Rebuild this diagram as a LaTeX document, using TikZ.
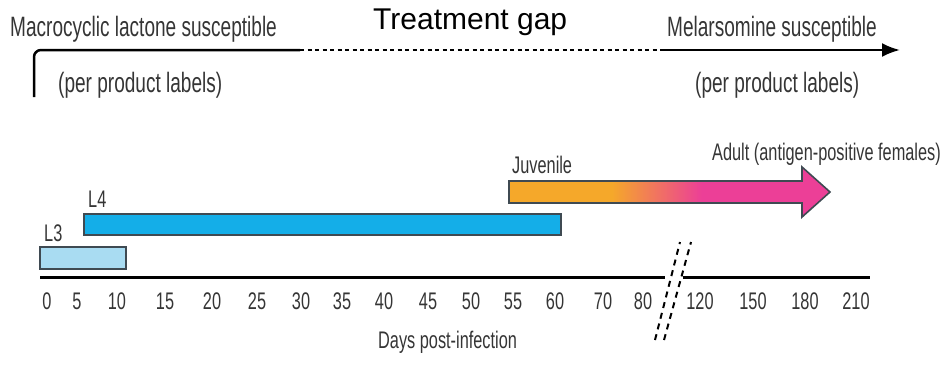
\documentclass[tikz,border=0pt]{standalone}
\usepackage{fontspec}
\setmainfont{Liberation Sans}
\newfontfamily\narrowfont{Liberation Sans}[FakeStretch=0.68]
\usetikzlibrary{arrows.meta}

\definecolor{labelgray}{HTML}{353535}
\definecolor{barline}{HTML}{3F4A52}
\definecolor{lthree}{HTML}{A9DCF2}
\definecolor{lfour}{HTML}{14AEE8}
\definecolor{juvorange}{HTML}{F5A82A}
\definecolor{adultpink}{HTML}{EC3F97}

\pgfdeclarehorizontalshading{juvshade}{100bp}{color(0bp)=(juvorange); color(41bp)=(juvorange); color(55bp)=(adultpink); color(100bp)=(adultpink)}

\begin{document}
\begin{tikzpicture}[x=1pt,y=-1pt,
  lbl/.style={anchor=base west,inner sep=0pt,text=labelgray,font=\narrowfont\fontsize{28}{32}\selectfont},
  smalllbl/.style={lbl,font=\narrowfont\fontsize{24}{28}\selectfont},
  ticklbl/.style={anchor=base,inner sep=0pt,text=labelgray,font=\narrowfont\fontsize{24}{28}\selectfont},
  topline/.style={line width=2.5pt},
  bar/.style={draw=barline,line width=1.6pt},
  axisline/.style={line width=3pt},
  breakmark/.style={line width=2pt,dash pattern=on 6pt off 5pt}]

\useasboundingbox (0,0) rectangle (949,368);

% susceptibility line
\coordinate (mlstart) at (34,97);
\coordinate (mlcorner) at (34,50);
\coordinate (mlend) at (300,50);
\coordinate (melstart) at (660,50);
\coordinate (melend) at (900,50);
\draw[topline,rounded corners=7pt] (mlstart) -- (mlcorner) -- (mlend);
\draw[topline,dash pattern=on 4pt off 3.5pt] (mlend) -- (melstart);
\draw[topline,-{Latex[length=18pt,width=14pt]}] (melstart) -- (melend);

\node[lbl] (mltext) at (10,36) {Macrocyclic lactone susceptible};
\node[lbl] (mllabels) at (58,92) {(per product labels)};
\node[anchor=base west,inner sep=0pt,font=\fontsize{30}{34}\selectfont] (gap) at (373,29) {Treatment gap};
\node[lbl] (meltext) at (667,36) {Melarsomine susceptible};
\node[lbl] (mellabels) at (695,92) {(per product labels)};

% stages
\draw[bar,fill=lthree] (40,247) rectangle (126,269);
\draw[bar,fill=lfour] (84,214) rectangle (561,235);
\shadedraw[bar,shading=juvshade] (509,181) -- (802,181) -- (802,167) -- (830,192)
  -- (802,217) -- (802,203) -- (509,203) -- cycle;

\node[smalllbl] (lthreetext) at (44,241) {L3};
\node[smalllbl] (lfourtext) at (88,207) {L4};
\node[smalllbl] (juvtext) at (512,173) {Juvenile};
\node[smalllbl] (adulttext) at (712,160) {Adult (antigen-positive females)};

% axis
\draw[axisline] (40,277) -- (665,277);
\draw[axisline] (683,277) -- (870,277);
\draw[breakmark] (655,340) -- (680,242);
\draw[breakmark] (664,340) -- (691,242);

\foreach \x/\d in {47/0,77/5,117/10,165/15,212/20,257/25,301/30,342/35,384/40,428/45,
  471/50,513/55,555/60,603/70,643/80,700/120,753/150,805/180,856/210}
  \node[ticklbl] (tick\d) at (\x,309) {\d};

\node[smalllbl] (daystext) at (378,348) {Days post-infection};

\end{tikzpicture}
\end{document}
